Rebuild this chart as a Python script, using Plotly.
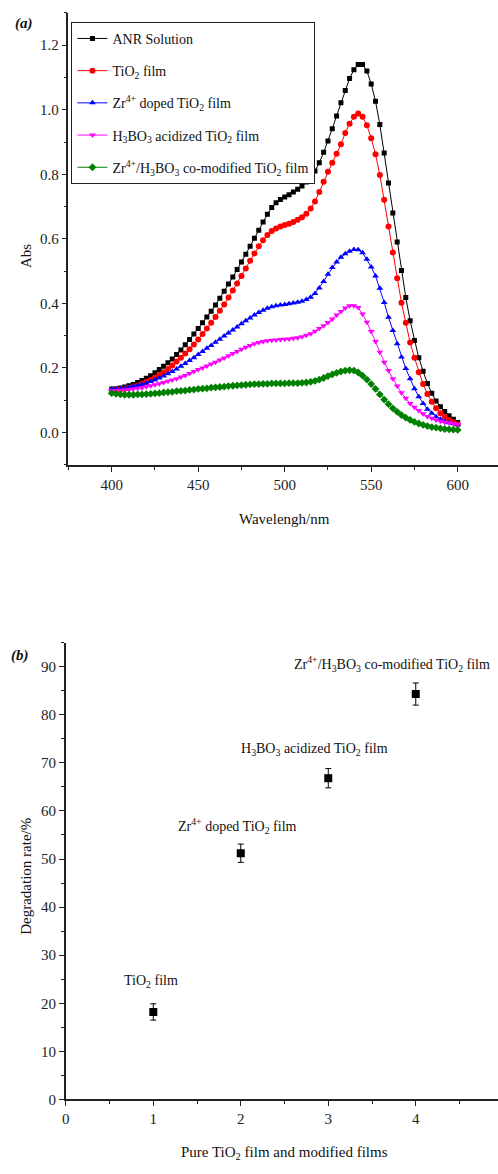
import plotly.graph_objects as go

W, H = 498, 1174


def px(x):
    return x / W


def py(y):
    return 1 - y / H


FONT = "Liberation Serif"

# ---------------- Panel (a) data ----------------
wavelength = [400 + 2.5 * i for i in range(81)]

anr_solution = [
    0.135, 0.136, 0.138, 0.141, 0.145, 0.149, 0.155, 0.161, 0.168, 0.176,
    0.185, 0.195, 0.205, 0.216, 0.228, 0.242, 0.256, 0.272, 0.288, 0.305,
    0.322, 0.340, 0.358, 0.376, 0.395, 0.416, 0.438, 0.460, 0.482, 0.505,
    0.528, 0.552, 0.577, 0.602, 0.627, 0.652, 0.676, 0.697, 0.712, 0.722,
    0.730, 0.737, 0.745, 0.754, 0.764, 0.776, 0.790, 0.810, 0.836, 0.868,
    0.903, 0.941, 0.981, 1.022, 1.060, 1.097, 1.124, 1.140, 1.140, 1.120,
    1.080, 1.026, 0.954, 0.866, 0.773, 0.680, 0.590, 0.502, 0.418, 0.346,
    0.285, 0.232, 0.190, 0.152, 0.122, 0.098, 0.080, 0.065, 0.052, 0.041,
    0.031,
]

tio2_film = [
    0.132, 0.133, 0.134, 0.136, 0.139, 0.142, 0.146, 0.151, 0.157, 0.163,
    0.170, 0.178, 0.187, 0.197, 0.208, 0.220, 0.232, 0.245, 0.258, 0.273,
    0.288, 0.305, 0.322, 0.340, 0.358, 0.377, 0.397, 0.418, 0.440, 0.462,
    0.485, 0.508, 0.532, 0.555, 0.577, 0.596, 0.612, 0.624, 0.632, 0.638,
    0.643, 0.647, 0.652, 0.659, 0.667, 0.678, 0.694, 0.716, 0.745, 0.777,
    0.808, 0.836, 0.864, 0.893, 0.928, 0.957, 0.978, 0.988, 0.978, 0.952,
    0.912, 0.862, 0.798, 0.721, 0.638, 0.558, 0.478, 0.402, 0.340, 0.279,
    0.232, 0.187, 0.150, 0.119, 0.095, 0.075, 0.060, 0.048, 0.039, 0.032,
    0.026,
]

zr_doped = [
    0.135, 0.135, 0.136, 0.138, 0.140, 0.143, 0.146, 0.149, 0.153, 0.158,
    0.163, 0.169, 0.175, 0.182, 0.189, 0.197, 0.205, 0.214, 0.223, 0.232,
    0.242, 0.251, 0.261, 0.270, 0.280, 0.289, 0.299, 0.308, 0.318, 0.327,
    0.337, 0.346, 0.355, 0.364, 0.372, 0.379, 0.385, 0.390, 0.393, 0.395,
    0.397, 0.399, 0.401, 0.404, 0.407, 0.412, 0.419, 0.431, 0.448, 0.468,
    0.490, 0.511, 0.528, 0.543, 0.554, 0.562, 0.567, 0.566, 0.557, 0.537,
    0.513, 0.485, 0.447, 0.403, 0.357, 0.316, 0.275, 0.234, 0.198, 0.167,
    0.136, 0.111, 0.090, 0.072, 0.060, 0.049, 0.041, 0.034, 0.030, 0.027,
    0.024,
]

h3bo3_acidized = [
    0.130, 0.130, 0.131, 0.132, 0.133, 0.135, 0.137, 0.139, 0.142, 0.145,
    0.148, 0.151, 0.155, 0.159, 0.163, 0.167, 0.172, 0.177, 0.183, 0.189,
    0.195, 0.200, 0.206, 0.212, 0.218, 0.225, 0.231, 0.238, 0.245, 0.251,
    0.258, 0.264, 0.270, 0.275, 0.279, 0.282, 0.284, 0.286, 0.287, 0.288,
    0.289, 0.290, 0.292, 0.294, 0.297, 0.301, 0.306, 0.314, 0.322, 0.331,
    0.341, 0.352, 0.364, 0.375, 0.386, 0.393, 0.393, 0.387, 0.367, 0.342,
    0.313, 0.282, 0.249, 0.218, 0.192, 0.167, 0.144, 0.123, 0.106, 0.090,
    0.078, 0.068, 0.058, 0.050, 0.044, 0.039, 0.035, 0.032, 0.030, 0.028,
    0.026,
]

co_modified = [
    0.122, 0.120, 0.118, 0.117, 0.117, 0.117, 0.118, 0.118, 0.119, 0.120,
    0.121, 0.122, 0.124, 0.125, 0.126, 0.128, 0.129, 0.130, 0.132, 0.133,
    0.135, 0.136, 0.137, 0.139, 0.140, 0.141, 0.142, 0.144, 0.145, 0.146,
    0.147, 0.148, 0.149, 0.150, 0.150, 0.151, 0.151, 0.152, 0.152, 0.152,
    0.152, 0.153, 0.153, 0.153, 0.154, 0.155, 0.157, 0.160, 0.164, 0.169,
    0.175, 0.180, 0.185, 0.189, 0.192, 0.193, 0.192, 0.186, 0.176, 0.164,
    0.150, 0.135, 0.118, 0.102, 0.088, 0.075, 0.064, 0.054, 0.046, 0.039,
    0.033, 0.028, 0.024, 0.020, 0.017, 0.015, 0.013, 0.011, 0.010, 0.009,
    0.008,
]

series_names = [
    "ANR Solution",
    "TiO<sub>2</sub> film",
    "Zr<sup>4+</sup> doped TiO<sub>2</sub> film",
    "H<sub>3</sub>BO<sub>3</sub> acidized TiO<sub>2</sub> film",
    "Zr<sup>4+</sup>/H<sub>3</sub>BO<sub>3</sub> co-modified TiO<sub>2</sub> film",
]
series_values = [anr_solution, tio2_film, zr_doped, h3bo3_acidized, co_modified]
series_colors = ["#000000", "#ff0000", "#0000ff", "#ff00ff", "#008000"]
series_symbols = ["square", "circle", "triangle-up", "triangle-down", "diamond"]
series_sizes = [5, 6, 6, 6, 6]

# ---------------- Panel (b) data ----------------
sample_index = [1, 2, 3, 4]
degradation = [18.2, 51.2, 66.8, 84.3]
degradation_err = [1.7, 1.9, 2.0, 2.3]
point_labels = [
    "TiO<sub>2</sub> film",
    "Zr<sup>4+</sup> doped TiO<sub>2</sub> film",
    "H<sub>3</sub>BO<sub>3</sub> acidized TiO<sub>2</sub> film",
    "Zr<sup>4+</sup>/H<sub>3</sub>BO<sub>3</sub> co-modified TiO<sub>2</sub> film",
]
label_xshift = [-2, -3, -14, -24]
label_yshift = [30, 27, 29, 30]

fig = go.Figure()

for i, (name, vals, col, sym, sz) in enumerate(
    zip(series_names, series_values, series_colors, series_symbols, series_sizes)
):
    fig.add_trace(
        go.Scatter(
            x=wavelength,
            y=vals,
            mode="lines+markers",
            name=name,
            legendgroup="g%d" % i,
            line=dict(color=col, width=1),
            marker=dict(symbol=sym, size=sz, color=col, line=dict(width=0)),
            xaxis="x",
            yaxis="y",
        )
    )

fig.add_trace(
    go.Scatter(
        x=sample_index,
        y=degradation,
        mode="markers",
        showlegend=False,
        marker=dict(symbol="square", size=8, color="black"),
        error_y=dict(type="data", array=degradation_err, color="black",
                     thickness=1, width=3),
        xaxis="x2",
        yaxis="y2",
    )
)

axis_common = dict(
    showline=True,
    linecolor="#222222",
    linewidth=1.5,
    ticks="outside",
    ticklen=5,
    tickwidth=1.3,
    tickcolor="#222222",
    showgrid=False,
    zeroline=False,
    mirror=False,
    tickfont=dict(family=FONT, size=15, color="#222222"),
)

fig.update_layout(
    width=W,
    height=H,
    margin=dict(l=0, r=0, t=0, b=0),
    paper_bgcolor="white",
    plot_bgcolor="white",
    font=dict(family=FONT, size=14, color="#111111"),
    xaxis=dict(
        domain=[px(65), 1],
        anchor="y",
        range=[375, 623.3],
        tickmode="linear",
        tick0=400,
        dtick=50,
        minor=dict(ticks="outside", ticklen=3, tick0=375, dtick=25,
                   tickcolor="#222222", showgrid=False),
        **axis_common,
    ),
    yaxis=dict(
        domain=[py(468), py(13)],
        anchor="x",
        range=[-0.1, 1.3],
        tickmode="linear",
        tick0=0,
        dtick=0.2,
        tickformat=".1f",
        minor=dict(ticks="outside", ticklen=3, tick0=-0.1, dtick=0.1,
                   tickcolor="#222222", showgrid=False),
        **axis_common,
    ),
    xaxis2=dict(
        domain=[px(62.3), 1],
        anchor="y2",
        range=[0, 4.94],
        tickmode="linear",
        tick0=0,
        dtick=1,
        minor=dict(ticks="outside", ticklen=3, tick0=0, dtick=0.5,
                   tickcolor="#222222", showgrid=False),
        **axis_common,
    ),
    yaxis2=dict(
        domain=[py(1107), py(647)],
        anchor="x2",
        range=[0, 95],
        tickmode="linear",
        tick0=0,
        dtick=10,
        minor=dict(ticks="outside", ticklen=3, tick0=0, dtick=5,
                   tickcolor="#222222", showgrid=False),
        **axis_common,
    ),
    legend=dict(
        x=px(68),
        y=py(22),
        xanchor="left",
        yanchor="top",
        bordercolor="#222222",
        borderwidth=1,
        bgcolor="white",
        font=dict(family=FONT, size=14, color="#111111"),
        tracegroupgap=11,
        itemwidth=30,
        traceorder="grouped",
    ),
    showlegend=True,
)

annotations = []
for i, lab in enumerate(point_labels):
    annotations.append(
        dict(
            x=sample_index[i],
            y=degradation[i],
            xref="x2",
            yref="y2",
            text=lab,
            showarrow=False,
            xshift=label_xshift[i],
            yshift=label_yshift[i],
            font=dict(family=FONT, size=14, color="#111111"),
        )
    )

titles = [
    ("<b><i>(a)</i></b>", 20, 24, 0, 15),
    ("Abs", 22, 258, -90, 15),
    ("Wavelengh/nm", 283, 523, 0, 15),
    ("<b><i>(b)</i></b>", 16, 660, 0, 15),
    ("Degradation rate/%", 22, 882, -90, 15),
    ("Pure TiO<sub>2</sub> film and modified films", 283, 1161, 0, 15),
]
for text, x, y, ang, fs in titles:
    annotations.append(
        dict(
            x=px(x),
            y=py(y),
            xref="paper",
            yref="paper",
            text=text,
            showarrow=False,
            textangle=ang,
            xanchor="center",
            yanchor="middle",
            font=dict(family=FONT, size=fs, color="#111111"),
        )
    )

fig.update_layout(annotations=annotations)

fig.write_html("out.html")
